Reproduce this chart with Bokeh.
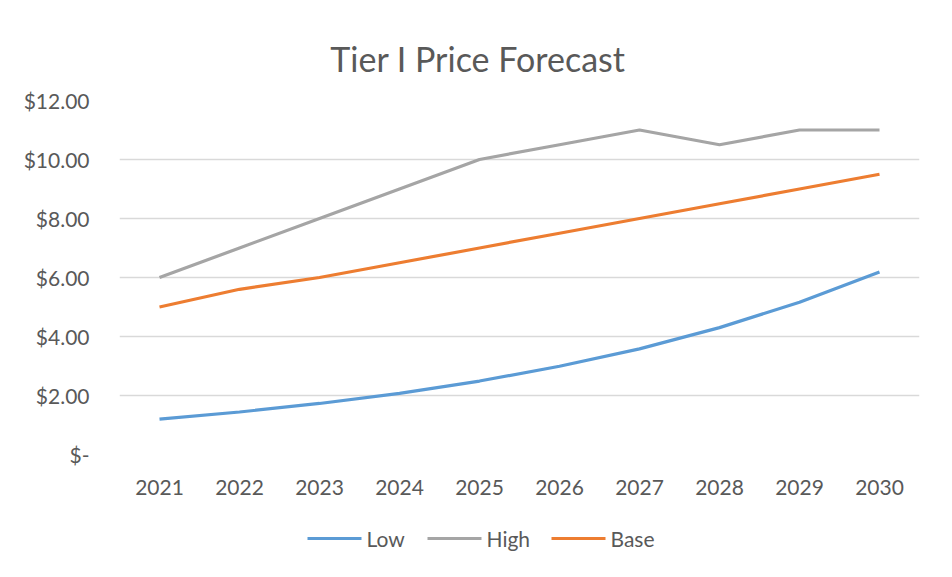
from bokeh.plotting import figure
from bokeh.layouts import column
from bokeh.models import FixedTicker, CustomJSTickFormatter
from bokeh.core.properties import value
from bokeh.embed import file_html
from bokeh.resources import INLINE

years = ["2021", "2022", "2023", "2024", "2025", "2026", "2027", "2028", "2029", "2030"]
low = [1.20, 1.44, 1.73, 2.07, 2.49, 2.99, 3.58, 4.30, 5.16, 6.19]
high = [6.0, 7.0, 8.0, 9.0, 10.0, 10.5, 11.0, 10.5, 11.0, 11.0]
base = [5.0, 5.6, 6.0, 6.5, 7.0, 7.5, 8.0, 8.5, 9.0, 9.5]
series_names = ["Low", "High", "Base"]
series_colors = ["#5B9BD5", "#A5A5A5", "#ED7D31"]
y_ticks = [0, 2, 4, 6, 8, 10, 12]
y_tick_labels = ["$-", "$2.00", "$4.00", "$6.00", "$8.00", "$10.00", "$12.00"]
title_text = "Tier I Price Forecast"

FONT = "Lato"
TXT = "#595959"


def strip(height):
    f = figure(width=936, height=height, x_range=(119, 919), y_range=(0, height),
               output_backend="svg", toolbar_location=None,
               min_border_left=119, min_border_right=17,
               min_border_top=0, min_border_bottom=0, outline_line_color=None)
    f.axis.visible = False
    f.grid.visible = False
    f.background_fill_color = "white"
    f.border_fill_color = "white"
    return f


# title strip (pixel coordinates)
p0 = strip(85)
p0.text(x=[477.5], y=[27], text=[title_text], text_font=value(FONT),
        text_font_size="34px", text_color=TXT, text_align="center",
        text_baseline="alphabetic")

p = figure(x_range=years, y_range=(0, 12), width=936, height=415,
           output_backend="svg", toolbar_location=None,
           min_border_left=119, min_border_right=17,
           min_border_top=15, min_border_bottom=46)

p.outline_line_color = None
p.background_fill_color = "white"
p.border_fill_color = "white"

p.xgrid.grid_line_color = None
p.ygrid.grid_line_color = "#D9D9D9"
p.ygrid.grid_line_width = 1.5
p.yaxis.ticker = FixedTicker(ticks=y_ticks)
p.yaxis.formatter = CustomJSTickFormatter(
    args=dict(yt=y_ticks, yl=y_tick_labels),
    code="const i = yt.indexOf(tick); return i >= 0 ? yl[i] : '';")

for ax in (p.xaxis, p.yaxis):
    ax.axis_line_color = None
    ax.major_tick_line_color = None
    ax.minor_tick_line_color = None
    ax.major_label_text_font = FONT
    ax.major_label_text_font_size = "21px"
    ax.major_label_text_color = TXT
p.yaxis.major_label_standoff = 24
p.xaxis.major_label_standoff = 19

for vals, col in zip([low, high, base], series_colors):
    p.line(years, vals, line_color=col, line_width=3.2)

# legend strip below the chart (pixel coordinates)
p2 = strip(70)
leg_x0 = [307, 427, 551]
leg_len = 54
leg_y = 32
p2.segment(x0=leg_x0, y0=[leg_y] * 3, x1=[x + leg_len for x in leg_x0],
           y1=[leg_y] * 3, line_color=series_colors, line_width=3.2)
p2.text(x=[x + leg_len + 5 for x in leg_x0], y=[leg_y] * 3, text=series_names,
        text_font=value(FONT), text_font_size="21px", text_color=TXT,
        text_align="left", text_baseline="middle")

layout = column(p0, p, p2, spacing=0)
open("out.html", "w").write(file_html(layout, INLINE))
